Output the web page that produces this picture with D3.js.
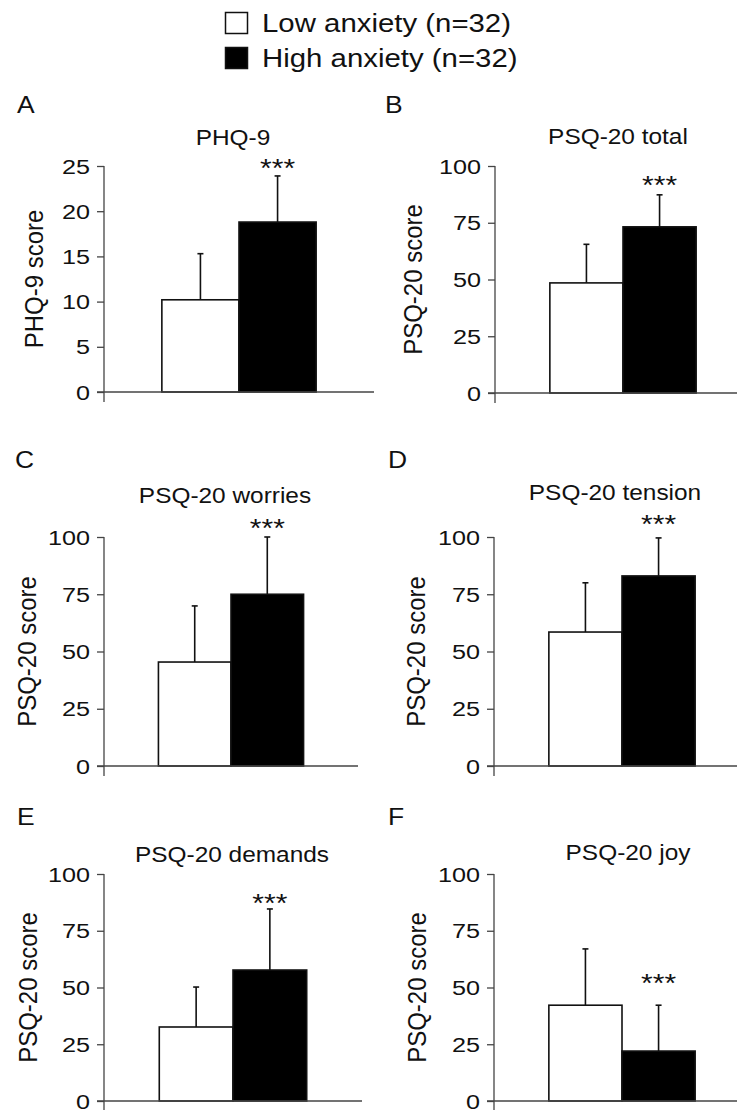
<!DOCTYPE html>
<html>
<head>
<meta charset="utf-8">
<script src="https://cdn.jsdelivr.net/npm/d3@7"></script>
<style>
  body { margin: 0; background: #fff; }
  text { font-family: "Liberation Sans", Arial, sans-serif; fill: #111; }
</style>
</head>
<body>
<div id="canvas"></div>
<script>
// data
const groups = ["Low anxiety (n=32)", "High anxiety (n=32)"];
const panelLetters = ["A", "B", "C", "D", "E", "F"];
const panelTitles = ["PHQ-9", "PSQ-20 total", "PSQ-20 worries", "PSQ-20 tension", "PSQ-20 demands", "PSQ-20 joy"];
const yLabels = ["PHQ-9 score", "PSQ-20 score", "PSQ-20 score", "PSQ-20 score", "PSQ-20 score", "PSQ-20 score"];
const lowMean = [10.2, 48.5, 45.4, 58.5, 32.6, 42.2];
const lowSD = [5.1, 17.0, 24.5, 21.5, 17.6, 24.8];
const highMean = [18.8, 73.2, 75.0, 83.0, 57.7, 22.0];
const highSD = [5.1, 14.1, 25.0, 16.6, 26.9, 20.2];
const yMax = [25, 100, 100, 100, 100, 100];
const yTicks = [
    [0, 5, 10, 15, 20, 25],
    [0, 25, 50, 75, 100],
    [0, 25, 50, 75, 100],
    [0, 25, 50, 75, 100],
    [0, 25, 50, 75, 100],
    [0, 25, 50, 75, 100]
];
const sigText = "***";
const sigAt = [25.4, 94.3, 106.5, 108.3, 89.9, 54.6];

// panel placement (pixels)
const layout = [
    { ax: 104, top: 166, bottom: 392, right: 374, lx: 17, ly: 113, tx: 233, ty: 145, yl: 43 },
    { ax: 495, top: 166, bottom: 393, right: 751, lx: 385, ly: 113, tx: 618, ty: 144, yl: 422 },
    { ax: 104, top: 537, bottom: 766, right: 358, lx: 15, ly: 468, tx: 225, ty: 503, yl: 36 },
    { ax: 494, top: 537, bottom: 766, right: 750, lx: 388, ly: 468, tx: 615, ty: 500, yl: 425 },
    { ax: 104, top: 874, bottom: 1101, right: 362, lx: 17, ly: 825, tx: 232, ty: 862, yl: 37 },
    { ax: 494, top: 874, bottom: 1101, right: 750, lx: 388, ly: 825, tx: 628, ty: 860, yl: 426 }
];

const width = 737;
const height = 1110;
const axisColor = "#444";

const svg = d3.select("#canvas").append("svg")
    .attr("width", width)
    .attr("height", height);

// the figure's lettering is a bit wider than Arial, so stretch it sideways
function stext(g, x, y, str, size, sx, anchor) {
    return g.append("text")
        .attr("transform", `translate(${x},${y}) scale(${sx},1)`)
        .attr("font-size", size)
        .attr("text-anchor", anchor || "start")
        .text(str);
}

// legend
const legend = svg.append("g");
groups.forEach((name, i) => {
    legend.append("rect")
        .attr("x", 225.5)
        .attr("y", 12.5 + i * 35)
        .attr("width", 22)
        .attr("height", 21)
        .attr("fill", i === 0 ? "#fff" : "#000")
        .attr("stroke", "#111")
        .attr("stroke-width", 1.5);
    stext(legend, 262, 32 + i * 35, name, 26, 1.13);
});

panelTitles.forEach((title, p) => {
    const L = layout[p];
    const g = svg.append("g");

    const y = d3.scaleLinear()
        .domain([0, yMax[p]])
        .range([L.bottom, L.top]);

    const x = d3.scaleBand()
        .domain(["low", "high"])
        .range([L.ax, L.right])
        .paddingInner(0)
        .paddingOuter(0.75);

    const rows = [
        { key: "low", mean: lowMean[p], sd: lowSD[p], fill: "#fff" },
        { key: "high", mean: highMean[p], sd: highSD[p], fill: "#000" }
    ];

    // error bars (upper half only), drawn under the bars
    g.selectAll("line.err").data(rows).enter().append("line")
        .attr("class", "err")
        .attr("x1", d => x(d.key) + x.bandwidth() / 2)
        .attr("x2", d => x(d.key) + x.bandwidth() / 2)
        .attr("y1", d => y(d.mean))
        .attr("y2", d => y(d.mean + d.sd))
        .attr("stroke", "#111")
        .attr("stroke-width", 1.6);

    g.selectAll("line.cap").data(rows).enter().append("line")
        .attr("class", "cap")
        .attr("x1", d => x(d.key) + x.bandwidth() / 2 - 3)
        .attr("x2", d => x(d.key) + x.bandwidth() / 2 + 3)
        .attr("y1", d => y(d.mean + d.sd))
        .attr("y2", d => y(d.mean + d.sd))
        .attr("stroke", "#111")
        .attr("stroke-width", 1.6);

    g.selectAll("rect.bar").data(rows).enter().append("rect")
        .attr("class", "bar")
        .attr("x", d => x(d.key))
        .attr("y", d => y(d.mean))
        .attr("width", x.bandwidth())
        .attr("height", d => y(0) - y(d.mean))
        .attr("fill", d => d.fill)
        .attr("stroke", "#111")
        .attr("stroke-width", 1.6);

    // y axis
    const yAxis = g.append("g")
        .attr("transform", `translate(${L.ax},0)`)
        .call(d3.axisLeft(y).tickValues(yTicks[p]).tickSize(7).tickFormat(""));
    yAxis.select(".domain").remove();
    yAxis.selectAll(".tick line").attr("stroke", axisColor).attr("stroke-width", 1.3);

    g.append("line")
        .attr("x1", L.ax).attr("x2", L.ax)
        .attr("y1", y(yMax[p])).attr("y2", y(0) + 10)
        .attr("stroke", axisColor).attr("stroke-width", 1.3);

    // x axis
    g.append("line")
        .attr("x1", L.ax - 7).attr("x2", L.right)
        .attr("y1", y(0)).attr("y2", y(0))
        .attr("stroke", axisColor).attr("stroke-width", 1.3);

    yTicks[p].forEach(t => {
        stext(g, L.ax - 14, y(t) + 7.5, String(t), 21, 1.2, "end");
    });

    // y label
    g.append("text")
        .attr("transform", `translate(${L.yl},${(L.top + L.bottom) / 2}) rotate(-90) scale(1,1.1)`)
        .attr("font-size", 24)
        .attr("text-anchor", "middle")
        .text(yLabels[p]);

    stext(g, L.lx, L.ly, panelLetters[p], 23, 1.15);
    stext(g, L.tx, L.ty, title, 22, 1.11, "middle");
    stext(g, x("high") + x.bandwidth() / 2, y(sigAt[p]) + 15, sigText, 25, 1.2, "middle");
});
</script>
</body>
</html>
